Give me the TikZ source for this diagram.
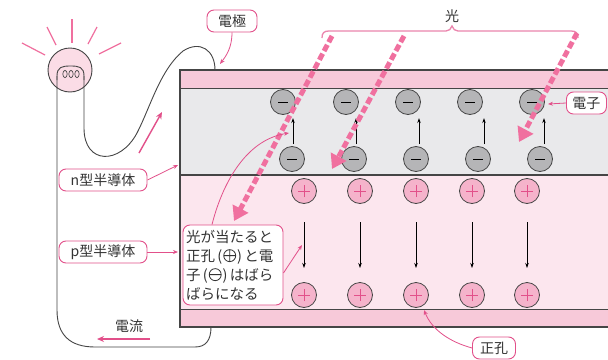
\documentclass[tikz,border=0pt]{standalone}
\usepackage{fontspec}
\setmainfont{Noto Sans CJK JP}
\usetikzlibrary{arrows.meta}

\definecolor{pk}{HTML}{E2508A}
\definecolor{raypk}{HTML}{F0709F}
\definecolor{elband}{HTML}{F7C9D9}
\definecolor{nreg}{HTML}{E9E9EB}
\definecolor{preg}{HTML}{FCE6EE}
\definecolor{wire}{HTML}{454545}
\definecolor{txt}{HTML}{333333}
\definecolor{efill}{HTML}{B5B5B7}
\definecolor{hfill}{HTML}{F5B3CB}
\definecolor{bulbfill}{HTML}{FBDCE6}

% circled signs set inside running text
\newcommand{\cplus}{\tikz[baseline=-0.38em,x=1pt,y=1pt]{%
  \draw[txt, line width=0.8pt] (0,0) circle (6pt) (-6,0) -- (6,0) (0,-6) -- (0,6);}}
\newcommand{\cminus}{\tikz[baseline=-0.38em,x=1pt,y=1pt]{%
  \draw[txt, line width=0.8pt] (0,0) circle (6pt) (-6,0) -- (6,0);}}

\tikzset{
  lbl/.style={font=\fontsize{14}{16}\selectfont, text=txt},
  callout/.style={lbl, draw=pk, line width=0.9pt, fill=white, rounded corners=7pt,
    inner sep=0pt, minimum height=22pt},
  pointer/.style={pk, line width=0.8pt, -{Stealth[length=5pt,width=4pt]}},
  electron/.style={circle, draw=wire, line width=0.8pt, fill=efill, minimum size=25pt, inner sep=0pt},
  hole/.style={circle, draw=wire, line width=0.8pt, fill=hfill, minimum size=25pt, inner sep=0pt},
  lightray/.style={raypk, line width=5pt, dash pattern=on 7pt off 3pt,
    -{Triangle[length=14pt,width=17pt]}},
  drift/.style={black, line width=0.7pt, -{Stealth[length=5pt,width=3.5pt]}},
  current/.style={pk, line width=1.4pt, -{Stealth[length=7pt,width=6pt]}},
  wirestyle/.style={wire, line width=0.9pt},
}

\begin{document}
\begin{tikzpicture}[x=1pt,y=-1pt]
\useasboundingbox (0,0) rectangle (608,359);
\fill[white] (0,0) rectangle (608,359);

% semiconductor layers
\begin{scope}
\clip (0,0) rectangle (608,359);
\fill[elband] (180,70) rectangle (620,88);
\fill[nreg] (180,88) rectangle (620,175);
\fill[preg] (180,175) rectangle (620,309);
\fill[elband] (180,309) rectangle (620,327);
\draw[wire, line width=1.3pt] (620,70) -- (180,70) -- (180,327) -- (620,327);
\draw[wire, line width=1pt] (180,88) -- (620,88);
\draw[wire, line width=1.6pt] (180,175) -- (620,175);
\draw[wire, line width=1pt] (180,309) -- (620,309);
\end{scope}

% light bulb
\foreach \a/\b/\c/\d in {22/43/45/55, 47/27/56/45, 72/19/72/43, 97/27/88/44, 121/43/99/54}
  \draw[raypk, line width=1.2pt] (\a,\b) -- (\c,\d);
\node[circle, draw=wire, line width=0.9pt, fill=bulbfill, minimum size=44pt, inner sep=0pt] (bulb) at (70,70) {};
\draw[wirestyle] (57,80) -- (57,76) .. controls (57,67) and (62,66) .. (70.5,66)
  .. controls (79,66) and (84,67) .. (84,76) -- (84,80);
\foreach \x in {65,71,77}
  \draw[wire, line width=0.7pt] (\x,74) ellipse (2.2pt and 3.6pt);

% wires
\draw[wirestyle] (57,76) -- (57,310) .. controls (57,335) and (70,347) .. (95,347)
  -- (195,347) .. controls (206,347) and (211,340) .. (211,327);
\draw[wirestyle] (84,76) -- (84,128) .. controls (84,165) and (120,165) .. (137,133)
  .. controls (150,108) and (160,70) .. (183,51) .. controls (200,40) and (215,50) .. (215,70);

% electrons and holes
\foreach \x [count=\i] in {283,346,408,470,532}
  \node[electron] (et\i) at (\x,102) {};
\foreach \x [count=\i] in {292,354,416,478,540}
  \node[electron] (eb\i) at (\x,159) {};
\foreach \i in {1,...,5} {
  \draw[black, line width=0.9pt] ([xshift=-5pt]et\i.center) -- ([xshift=5pt]et\i.center);
  \draw[black, line width=0.9pt] ([xshift=-5pt]eb\i.center) -- ([xshift=5pt]eb\i.center);
}
\foreach \i/\dx in {1/1,2/2,3/3,4/6,5/4}
  \draw[drift] ([xshift=\dx pt]eb\i.north) ++(0,-2) -- ++(0,-26);

\foreach \x [count=\i] in {304,360,416,472,527} {
  \node[hole] (ht\i) at (\x,191) {};
  \node[hole] (hb\i) at (\x,295) {};
  \draw[drift] (\x,222) -- (\x,268);
}
\foreach \n in {ht1,ht2,ht3,ht4,ht5,hb1,hb2,hb3,hb4,hb5}
  \draw[pk, line width=0.9pt] ([xshift=-6pt]\n.center) -- ([xshift=6pt]\n.center)
    ([yshift=-6pt]\n.center) -- ([yshift=6pt]\n.center);

% incoming light
\draw[pk!70, line width=1.3pt] (322,38) .. controls (322,33) and (324,31) .. (329,31) -- (446,31)
  .. controls (449,31) and (451,29) .. (452,26) .. controls (453,29) and (455,31) .. (458,31)
  -- (571,31) .. controls (576,31) and (578,33) .. (578,38);
\node[lbl] (hikari) at (452,16) {光};
\coordinate (r1s) at (332,36); \coordinate (r1e) at (234,221);
\coordinate (r2s) at (404,36); \coordinate (r2e) at (332,169);
\coordinate (r3s) at (577,33); \coordinate (r3e) at (519,142);
\draw[lightray] (r1s) -- (r1e);
\draw[lightray] (r2s) -- (r2e);
\draw[lightray] (r3s) -- (r3e);

% current
\draw[current] (139,153) -- (162,112);
\node[lbl] (ryu) at (129,326) {電流};
\draw[current] (150,339) -- (97,339);

% callouts
\node[callout, minimum width=50pt] (kyoku) at (232,21) {電極};
\draw[pointer] (kyoku.south) .. controls (232,48) and (226,56) .. (220,64);

\node[callout, minimum width=88pt] (ntype) at (103,180) {n型半導体};
\draw[pointer] (ntype.east) -- (178,165);

\node[callout, minimum width=88pt] (ptype) at (103,252) {p型半導体};
\draw[pointer] (ptype.east) -- (178,252);

\node[callout, minimum width=40pt, anchor=west] (denshi) at (566,103) {電子};
\draw[pointer] (denshi.west) -- (548,104);

\node[callout, minimum width=43pt] (seikou) at (494,348) {正孔};
\draw[pointer] (seikou.west) .. controls (450,342) and (432,330) .. (424,310);

\node[callout, text width=94pt, minimum height=80pt, inner xsep=3pt, align=left,
  font=\fontsize{14.5}{19}\selectfont] (note) at (233,265)
  {光が当たると\\正孔\,(\kern1pt\cplus\kern1pt)\,と電\\子\,(\kern1pt\cminus\kern1pt)\,はばら\\ばらになる};
\draw[pointer] ([xshift=-21pt]note.north) .. controls (222,185) and (245,140) .. (289,133);
\draw[pointer] ([yshift=-8pt]note.east) -- (302,245);
\end{tikzpicture}
\end{document}
